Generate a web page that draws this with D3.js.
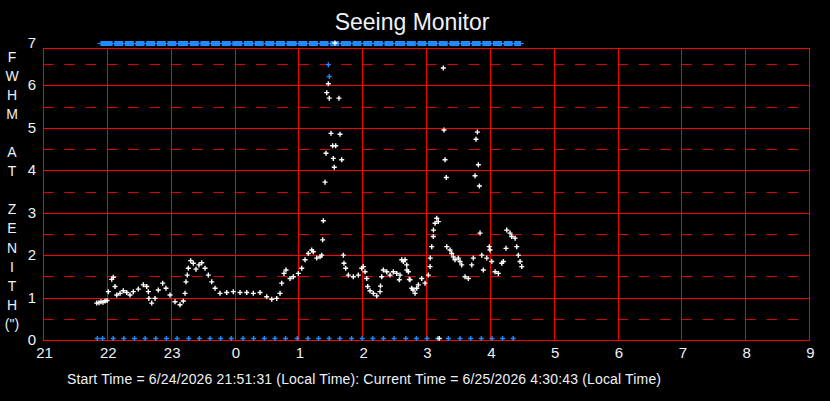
<!DOCTYPE html>
<meta charset="utf-8">
<style>
  body {
    margin: 0;
    background: #000;
  }
  #chart text {
    font-family: "Liberation Sans", Arial, sans-serif;
    fill: #eef2f6;
  }
</style>
<body>
  <div id="chart"></div>
  <script src="https://d3js.org/d3.v7.min.js"></script>
  <script>

    // minutes after 21:00 local time, FWHM at zenith in arcsec
    const fwhmTimes = [50.5, 52.6, 54.5, 56.4, 58.3, 60.2, 61.4, 64.6, 66.1, 67.7, 69.3, 72.4, 75.5, 78.7, 81.8, 84.9,
      89.6, 94.3, 97.5, 99.0, 99.5, 102.2, 105.3, 108.4, 112.5, 115.6, 119.4, 124.1, 128.8, 131.9, 133.5, 134.4,
      135.6, 136.6, 138.8, 141.3, 143.8, 146.6, 149.2, 152.3, 155.4, 158.6, 161.7, 166.4, 172.7, 178.9, 185.2,
      191.5, 197.7, 204.0, 210.3, 215.0, 219.7, 222.8, 224.4, 226.5, 228.4, 232.2, 235.3, 240.0, 243.2, 246.3,
      249.4, 252.6, 254.1, 257.3, 260.4, 262.0, 262.9, 263.5, 265.1, 266.0, 266.7, 268.2, 269.1, 270.7, 272.3,
      272.9, 273.8, 275.1, 278.2, 279.2, 280.8, 282.3, 282.9, 284.5, 287.0, 291.7, 296.4, 299.6, 301.1, 302.7,
      304.3, 305.2, 307.4, 310.5, 313.7, 316.8, 317.2, 318.4, 319.9, 323.1, 326.2, 329.3, 332.5, 334.9, 335.6,
      337.2, 338.7, 340.3, 341.9, 342.0, 343.4, 344.3, 345.0, 346.6, 347.8, 349.7, 351.3, 352.8, 356.0, 359.1,
      362.2, 363.8, 364.0, 365.4, 366.9, 367.0, 368.5, 370.1, 371.6, 372.5, 376.3, 376.9, 377.9, 379.1, 379.5,
      382.6, 384.2, 385.7, 387.3, 390.4, 392.0, 393.6, 396.7, 399.8, 403.0, 404.5, 406.1, 407.0, 408.3, 409.2,
      410.2, 410.8, 412.4, 413.9, 417.1, 419.5, 420.2, 421.8, 424.9, 428.0, 431.2, 432.7, 435.2, 435.9, 439.0,
      440.6, 443.7, 445.3, 446.8, 448.4, 450.0, 274.4]
    const fwhmValues = [0.87, 0.88, 0.90, 0.89, 0.92, 0.93, 1.14, 1.43, 1.48, 1.26, 1.06, 1.10, 1.16, 1.12, 1.06, 1.14,
      1.20, 1.30, 1.26, 1.14, 0.98, 0.87, 0.98, 1.18, 1.34, 1.22, 1.06, 0.90, 0.83, 0.92, 1.10, 1.37,
      1.53, 1.69, 1.87, 1.81, 1.67, 1.77, 1.82, 1.69, 1.53, 1.37, 1.22, 1.10, 1.12, 1.14, 1.12,
      1.12, 1.10, 1.12, 1.02, 0.96, 0.98, 1.10, 1.34, 1.57, 1.65, 1.45, 1.49, 1.57, 1.69, 1.89,
      2.04, 2.12, 2.08, 1.93, 1.96, 2.00, 2.36, 2.81, 3.72, 4.40, 5.83, 6.04, 5.70, 4.87, 4.58,
      4.28, 4.07, 4.58, 5.70, 4.85, 4.25, 2.00, 1.81, 1.69, 1.53, 1.49, 1.53, 1.69, 1.73, 1.61,
      1.45, 1.26, 1.16, 1.10, 1.04, 1.14, 1.27, 1.49, 1.65, 1.61, 1.53, 1.61, 1.57, 1.42, 1.53,
      1.89, 1.85, 1.89, 1.77, 1.65, 1.61, 1.43, 1.42, 1.22, 1.18, 1.10, 1.22, 1.30, 1.45, 1.34,
      1.53, 1.73, 1.93, 2.20, 2.44, 2.59, 2.75, 2.87, 2.79, 0.00, 6.41, 4.95, 4.25, 3.83, 2.20,
      2.12, 2.04, 1.96, 1.89, 1.93, 1.85, 1.77, 1.49, 1.45, 1.77, 1.93, 3.87, 4.73, 4.90, 4.13,
      3.63, 2.52, 2.00, 1.65, 1.93, 2.20, 2.12, 1.85, 1.61, 1.57, 1.81, 1.85, 2.16, 2.59, 2.52,
      2.44, 2.40, 2.20, 2.00, 1.85, 1.73, 7.00]

    // flagged samples plotted in blue
    const flagTimes = [268.2, 269.1]
    const flagValues = [6.49, 6.21]

    // blue markers along the bottom (no reading)
    const zeroTimes = [51, 56, 66, 76, 86, 96, 106, 116, 126, 137, 147, 157, 167, 177, 188, 198, 208, 218, 228,
      239, 249, 259, 269, 279, 290, 300, 310, 320, 330, 341, 351, 361, 371, 381, 392, 402, 412, 422, 432, 442]
    // saturated (off-scale) readings along the top
    const satTimes = [53, 66, 76, 86, 96, 106, 116, 126, 137, 147, 157, 167, 177, 188, 198, 208, 218, 228,
      239, 249, 259, 269, 279, 290, 300, 310, 320, 330, 341, 351, 361, 371, 381, 392, 402, 412, 422, 432, 442, 450]

    const hourLabels = ["21", "22", "23", "0", "1", "2", "3", "4", "5", "6", "7", "8", "9"]
    const yTicks = [0, 1, 2, 3, 4, 5, 6, 7]
    const yTitle = ["F", "W", "H", "M", "", "A", "T", "", "Z", "E", "N", "I", "T", "H", "(\")"]

    const W = 830, H = 401
    const x = d3.scaleLinear().domain([0, 720]).range([43, 809])
    const y = d3.scaleLinear().domain([0, 7]).range([340, 43])
    const frameTop = 48
    const crisp = v => Math.round(v) + 0.5

    const svg = d3.select("#chart")
      .append("svg")
      .attr("width", W)
      .attr("height", H)

    svg.append("rect").attr("width", W).attr("height", H).attr("fill", "#000")

    // title
    svg.append("text")
      .attr("x", 412)
      .attr("y", 30)
      .attr("text-anchor", "middle")
      .style("font-size", "23px")
      .text("Seeing Monitor")

    const grid = svg.append("g").attr("fill", "none")

    // half-unit dashed lines
    const hourW = x(60) - x(0)
    grid.selectAll("line.half")
      .data(d3.range(0.5, 7, 1))
      .join("line")
      .attr("class", "half")
      .attr("x1", x(0))
      .attr("x2", x(720))
      .attr("y1", function (d) { return crisp(y(d)) })
      .attr("y2", function (d) { return crisp(y(d)) })
      .attr("stroke", "#d80000")
      .attr("stroke-dasharray", `${hourW / 6},${hourW / 6}`)

    // integer lines
    grid.selectAll("line.whole")
      .data(yTicks.filter(function (d) { return d > 0 && d < 7 }))
      .join("line")
      .attr("class", "whole")
      .attr("x1", x(0))
      .attr("x2", x(720))
      .attr("y1", function (d) { return crisp(y(d)) })
      .attr("y2", function (d) { return crisp(y(d)) })
      .attr("stroke", "#ff0000")

    // hour lines
    grid.selectAll("line.hour")
      .data(hourLabels.map(function (d, i) { return i * 60 }).slice(1, -1))
      .join("line")
      .attr("class", "hour")
      .attr("x1", function (d) { return crisp(x(d)) })
      .attr("x2", function (d) { return crisp(x(d)) })
      .attr("y1", frameTop)
      .attr("y2", y(0))
      .attr("stroke", "#ff0000")

    grid.append("rect")
      .attr("x", crisp(x(0)))
      .attr("y", crisp(frameTop))
      .attr("width", Math.round(x(720) - x(0)))
      .attr("height", Math.round(y(0) - frameTop))
      .attr("stroke", "#ff0000")

    // tick labels
    svg.selectAll("text.ylab")
      .data(yTicks)
      .join("text")
      .attr("class", "ylab")
      .attr("x", 36)
      .attr("y", function (d) { return y(d) + 5 })
      .attr("text-anchor", "end")
      .style("font-size", "15px")
      .text(function (d) { return d })

    svg.selectAll("text.xlab")
      .data(hourLabels)
      .join("text")
      .attr("class", "xlab")
      .attr("x", function (d, i) { return x(i * 60) + 1.5 })
      .attr("y", 358)
      .attr("text-anchor", "middle")
      .style("font-size", "15px")
      .text(function (d) { return d })

    svg.selectAll("text.ytitle")
      .data(yTitle)
      .join("text")
      .attr("class", "ytitle")
      .attr("x", 12)
      .attr("y", function (d, i) { return 62 + i * 19.05 })
      .attr("text-anchor", "middle")
      .style("font-size", "14px")
      .text(function (d) { return d })

    svg.append("text")
      .attr("x", 67)
      .attr("y", 384)
      .attr("textLength", 594)
      .attr("lengthAdjust", "spacing")
      .style("font-size", "14px")
      .text("Start Time = 6/24/2026 21:51:31 (Local Time):  Current Time = 6/25/2026 4:30:43 (Local Time)")

    const cross = "M-2.5,0H2.5M0,-2.5V2.5"
    const blue = "#1e8cff"

    // saturated band at the top
    const band = svg.append("g")
    band.append("line")
      .attr("x1", x(satTimes[0]) - 2)
      .attr("x2", x(satTimes[satTimes.length - 1]) + 2)
      .attr("y1", y(7) + 0.5)
      .attr("y2", y(7) + 0.5)
      .attr("stroke", blue)
    band.selectAll("rect")
      .data(satTimes.slice(0, -1))
      .join("rect")
      .attr("x", function (d) { return x(d) + 1 })
      .attr("y", y(7) - 2)
      .attr("width", function (d, i) { return x(satTimes[i + 1]) - x(d) - 1.6 })
      .attr("height", 5)
      .attr("fill", blue)

    svg.selectAll("path.zero")
      .data(zeroTimes)
      .join("path")
      .attr("class", "zero")
      .attr("d", cross)
      .attr("transform", function (d) { return `translate(${x(d)},${y(0) - 1.5})` })
      .attr("stroke", blue)
      .attr("stroke-width", 1.4)

    svg.selectAll("path.flag")
      .data(flagTimes)
      .join("path")
      .attr("class", "flag")
      .attr("d", cross)
      .attr("transform", function (d, i) { return `translate(${x(d)},${y(flagValues[i])})` })
      .attr("stroke", blue)
      .attr("stroke-width", 1.4)

    svg.selectAll("path.fwhm")
      .data(fwhmTimes)
      .join("path")
      .attr("class", "fwhm")
      .attr("d", cross)
      .attr("transform", function (d, i) {
        let v = fwhmValues[i]
        return `translate(${x(d)},${v === 0 ? y(0) - 1.5 : y(v)})`
      })
      .attr("stroke", "#ffffff")
      .attr("stroke-width", 1.4)

  </script>
</body>
